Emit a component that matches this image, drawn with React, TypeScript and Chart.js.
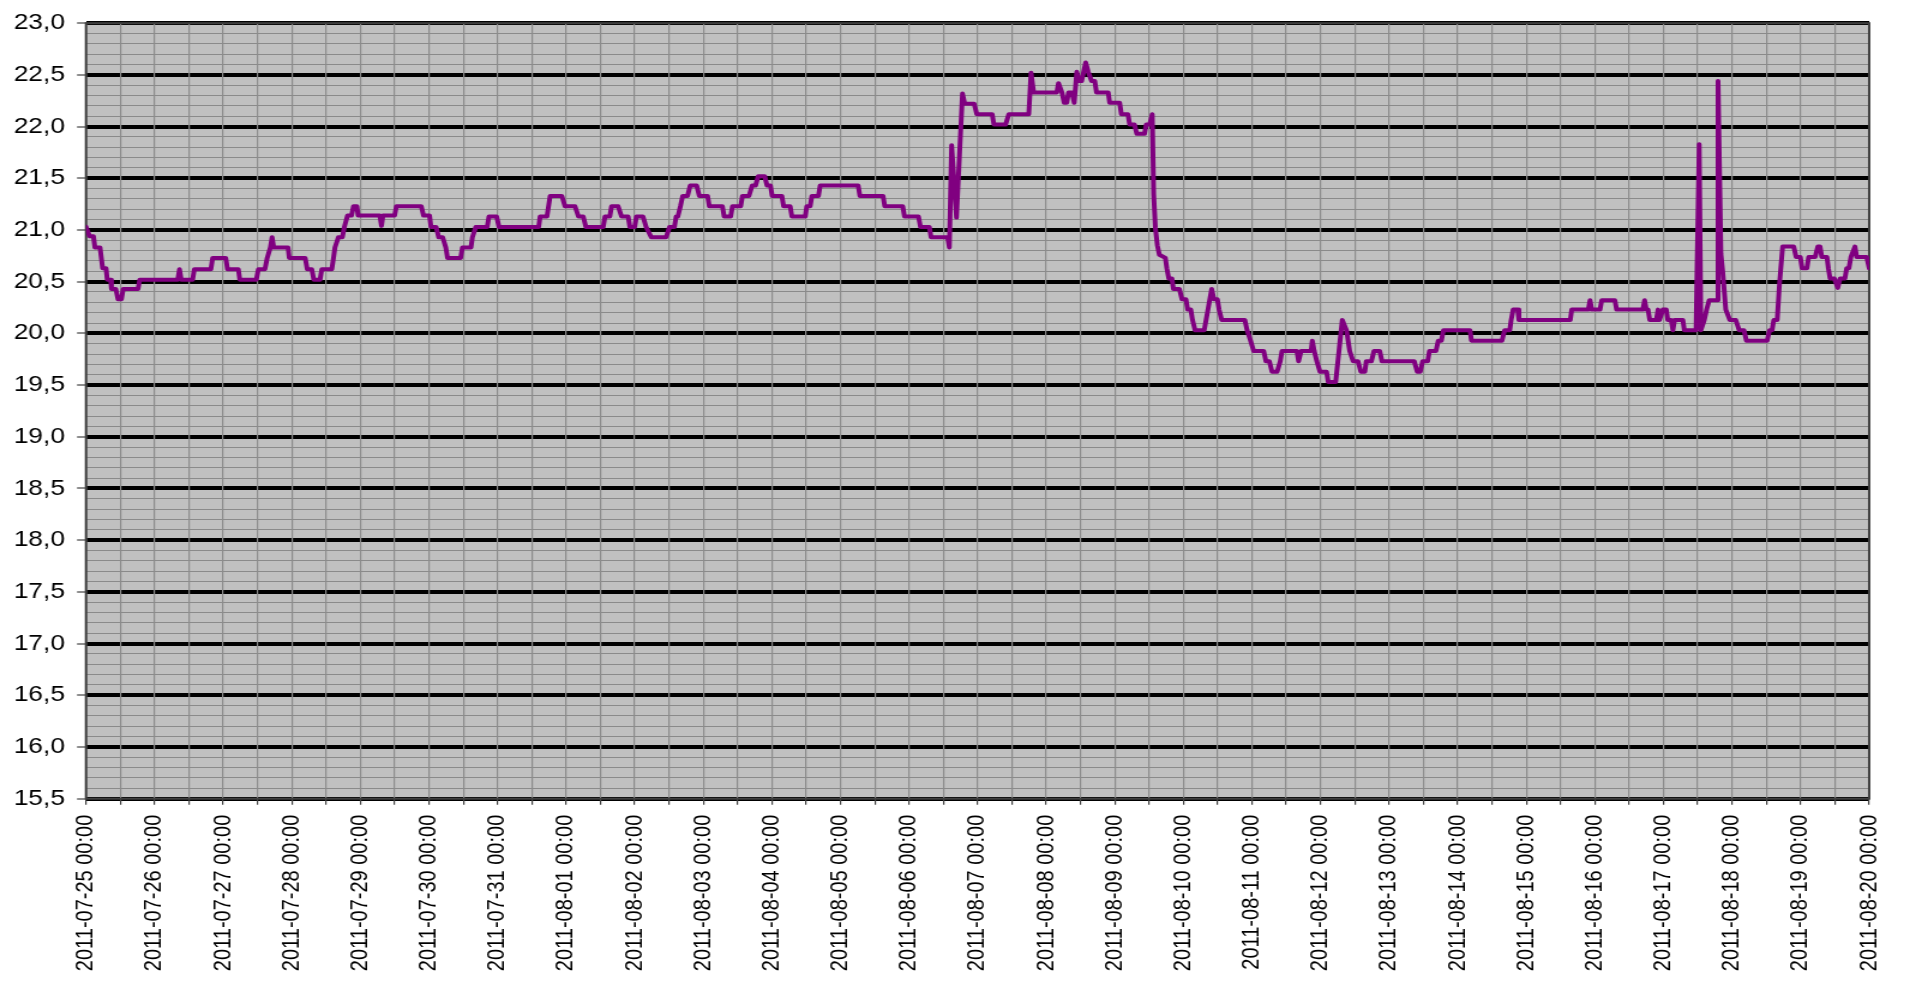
import { useEffect, useRef } from 'react';
import { Chart, registerables } from 'chart.js';

Chart.register(...registerables);

// Category tick labels (one per day, at 00:00)
const dateLabels = [
  '2011-07-25 00:00', '2011-07-26 00:00', '2011-07-27 00:00', '2011-07-28 00:00',
  '2011-07-29 00:00', '2011-07-30 00:00', '2011-07-31 00:00', '2011-08-01 00:00',
  '2011-08-02 00:00', '2011-08-03 00:00', '2011-08-04 00:00', '2011-08-05 00:00',
  '2011-08-06 00:00', '2011-08-07 00:00', '2011-08-08 00:00', '2011-08-09 00:00',
  '2011-08-10 00:00', '2011-08-11 00:00', '2011-08-12 00:00', '2011-08-13 00:00',
  '2011-08-14 00:00', '2011-08-15 00:00', '2011-08-16 00:00', '2011-08-17 00:00',
  '2011-08-18 00:00', '2011-08-19 00:00', '2011-08-20 00:00',
];

// Readings: hours since 2011-07-25 00:00
const readingHours = [
  0, 1.2, 2.6, 3.1, 4.9, 5.8, 7.0, 7.4, 8.6, 8.9, 10.4, 11.2, 12.4, 13.0, 18.2, 18.8,
  32.1, 32.7, 33.3, 37.3, 37.9, 43.7, 44.3, 48.9, 49.5, 53.3, 53.8, 59.6, 60.3, 62.6,
  63.4, 64.5, 65.1, 65.7, 70.7, 71.1, 76.7, 77.4, 79.0, 79.7, 81.9, 82.5, 86.0, 86.6,
  87.1, 88.3, 89.7, 90.4, 91.5, 92.9, 93.6, 94.8, 95.2, 102.8, 103.4, 103.9, 108.0,
  108.6, 117.3, 118.1, 120.2, 120.7, 122.5, 123.4, 124.8,
  125.9, 126.5, 131.1, 131.7, 134.7, 135.2, 136.4, 140.4, 141.0, 143.7, 144.5, 158.4,
  158.9, 161.3, 162.4, 166.5, 167.6, 171.1, 172.3, 174.0, 174.9, 181.0, 181.6, 183.3,
  183.9, 186.2, 187.4, 189.7, 190.3, 192.0, 192.6, 194.9, 196.0, 197.8, 203.0, 204.2,
  205.9, 206.5, 207.1, 208.0, 208.8, 210.5, 211.4, 213.7, 214.6, 217.5, 218.1, 222.7,
  223.3, 225.6, 226.2, 229.1, 229.7, 232.0, 233.1, 234.3, 235.2, 237.5, 238.3, 239.5,
  240.1, 243.5, 244.1, 246.4, 247.0,
  251.7, 252.2, 253.4, 254.0, 256.3, 256.9, 270.2, 270.8, 278.9, 279.5, 285.8, 286.4,
  291.3, 292.0, 295.1, 295.7, 301.5, 302.1, 302.9, 304.6, 306.7, 307.5, 310.8, 311.7,
  317.1, 317.7, 321.8, 322.9, 329.9, 330.7, 331.6, 339.7, 340.3, 341.5, 342.3, 343.2,
  343.8, 345.0, 345.8, 346.7, 347.5, 348.4, 349.8, 350.7, 351.9, 353.0, 353.6, 357.7,
  358.2, 361.7, 362.3, 364.6, 365.2, 366.9, 367.7, 370.4, 371.0, 372.2, 373.1,
  373.6, 374.2, 374.9, 375.6, 377.7, 378.2, 378.9, 380.0, 380.5, 382.6, 383.5, 384.9,
  385.5, 386.6, 387.2, 388.1, 391.3, 393.9, 394.7, 395.9, 396.5, 397.4, 405.5, 406.3,
  407.5, 408.6, 412.1, 412.9, 414.1, 415.0, 416.8, 417.9, 418.5, 423.7, 424.3, 425.2,
  428.7, 429.1, 429.8, 430.7, 431.8, 434.1, 434.7, 437.3, 439.6, 441.1, 442.2, 443.4,
  445.1, 446.1, 447.5, 448.0, 449.8, 450.7, 452.7, 453.5, 464.8, 465.8, 466.9, 467.7,
  469.5, 470.1, 472.4, 473.2, 474.3, 475.0, 484.3, 484.8, 495.5, 496.4, 498.2, 498.7,
  499.4,
  501.0, 501.4, 519.4, 519.9, 525.7, 526.3, 526.9, 529.8, 530.4, 535.0, 535.6, 544.8,
  545.4, 546.0, 546.6, 547.2, 549.5, 550.1, 550.6, 551.8, 553.0, 553.5, 554.7, 555.3,
  555.9, 558.8, 559.3, 563.4, 564.5, 565.1, 566.3, 567.1, 568.0, 570.9, 571.1, 572.1,
  572.7, 573.8, 575.2, 577.3, 578.5, 580.2, 581.0, 588.3, 589.1, 590.0, 590.6, 591.8,
  592.6, 593.7, 597.6, 598.4, 599.9, 600.5, 602.2, 602.8, 605.1, 606.0, 606.8, 607.4,
  609.2, 609.7, 610.3, 611.8, 613.0, 613.8, 615.5, 616.1, 616.9, 617.6, 619.0, 619.6,
  623.1, 624.0,
];

const readingTemps = [
  21.03, 20.94, 20.94, 20.83, 20.83, 20.63, 20.63, 20.52, 20.52, 20.43, 20.43, 20.33, 20.33, 20.43, 20.43, 20.52,
  20.52, 20.62, 20.52, 20.52, 20.62, 20.62, 20.73, 20.73, 20.62, 20.62, 20.52, 20.52, 20.62, 20.62,
  20.73, 20.83, 20.93, 20.83, 20.83, 20.73, 20.73, 20.62, 20.62, 20.52, 20.52, 20.62, 20.62, 20.73,
  20.83, 20.93, 20.93, 21.03, 21.14, 21.14, 21.23, 21.23, 21.14, 21.14, 21.04, 21.14, 21.14,
  21.23, 21.23, 21.14, 21.14, 21.03, 21.03, 20.93, 20.93,
  20.83, 20.73, 20.73, 20.83, 20.83, 20.93, 21.03, 21.03, 21.13, 21.13, 21.03, 21.03,
  21.13, 21.13, 21.33, 21.33, 21.23, 21.23, 21.13, 21.13, 21.03, 21.03, 21.13, 21.13,
  21.23, 21.23, 21.13, 21.13, 21.03, 21.03, 21.13, 21.13, 21.03, 20.93, 20.93, 21.03,
  21.03, 21.13, 21.13, 21.23, 21.33, 21.33, 21.43, 21.43, 21.33, 21.33, 21.23, 21.23,
  21.13, 21.13, 21.23, 21.23, 21.33, 21.33, 21.43, 21.43, 21.52, 21.52, 21.43, 21.43,
  21.33, 21.33, 21.23, 21.23, 21.13,
  21.13, 21.23, 21.23, 21.33, 21.33, 21.43, 21.43, 21.33, 21.33, 21.23, 21.23, 21.13,
  21.13, 21.03, 21.03, 20.93, 20.93, 20.83, 21.82, 21.12, 22.32, 22.22, 22.22, 22.12,
  22.12, 22.02, 22.02, 22.12, 22.12, 22.52, 22.33, 22.33, 22.42, 22.33, 22.23, 22.23,
  22.33, 22.33, 22.23, 22.53, 22.44, 22.44, 22.62, 22.53, 22.44, 22.44, 22.33, 22.33,
  22.23, 22.23, 22.12, 22.12, 22.02, 22.02, 21.93, 21.93, 22.02, 22.02, 22.12,
  21.35, 21.02, 20.85, 20.76, 20.73, 20.63, 20.53, 20.53, 20.43, 20.43, 20.33, 20.33,
  20.23, 20.23, 20.13, 20.03, 20.03, 20.43, 20.33, 20.33, 20.23, 20.13, 20.13, 20.03,
  19.93, 19.83, 19.83, 19.73, 19.73, 19.63, 19.63, 19.73, 19.83, 19.83, 19.73, 19.83,
  19.83, 19.93, 19.83, 19.73, 19.63, 19.63, 19.53, 19.53, 20.13, 20.03, 19.83, 19.73,
  19.73, 19.63, 19.63, 19.73, 19.73, 19.83, 19.83, 19.73, 19.73, 19.63, 19.63, 19.73,
  19.73, 19.83, 19.83, 19.93, 19.93, 20.03, 20.03, 19.93, 19.93, 20.03, 20.03, 20.13,
  20.23,
  20.23, 20.13, 20.13, 20.23, 20.23, 20.32, 20.23, 20.23, 20.32, 20.32, 20.23, 20.23,
  20.32, 20.23, 20.23, 20.13, 20.13, 20.23, 20.13, 20.23, 20.23, 20.13, 20.13, 20.03,
  20.13, 20.13, 20.03, 20.03, 21.83, 20.03, 20.13, 20.23, 20.32, 20.32, 22.44, 20.77,
  20.61, 20.23, 20.13, 20.13, 20.03, 20.03, 19.93, 19.93, 20.03, 20.03, 20.13, 20.13,
  20.48, 20.84, 20.84, 20.74, 20.74, 20.63, 20.63, 20.74, 20.74, 20.84, 20.84, 20.74,
  20.74, 20.63, 20.53, 20.53, 20.44, 20.53, 20.53, 20.63, 20.63, 20.74, 20.84, 20.74,
  20.74, 20.63,
];

const Y_MIN = 15.5;
const Y_MAX = 23.0;
const X_MAX_HOURS = 624;

const PAGE_W = 1910;
const PAGE_H = 985;
const STRETCH = 1.2;
const CANVAS_W = Math.round(PAGE_W / STRETCH);

const FONT = "'Liberation Sans', Arial, sans-serif";

const isMajor = (v: number) => Math.abs(v * 2 - Math.round(v * 2)) < 1e-6;

export default function App() {
  const ref = useRef<HTMLCanvasElement | null>(null);

  useEffect(() => {
    document.body.style.margin = '0';
    const canvas = ref.current;
    if (!canvas) return;

    const plotPlugin = {
      id: 'plotBackground',
      beforeDraw(chart: any) {
        const { ctx, chartArea: a } = chart;
        ctx.save();
        ctx.fillStyle = '#C0C0C0';
        ctx.fillRect(a.left, a.top, a.right - a.left, a.bottom - a.top);
        ctx.restore();
      },
      beforeDatasetsDraw(chart: any) {
        const { ctx, chartArea: a } = chart;
        ctx.save();
        ctx.strokeStyle = '#404040';
        ctx.lineWidth = 2;
        ctx.strokeRect(a.left, a.top, a.right - a.left, a.bottom - a.top);
        ctx.restore();
      },
    };

    const chart = new Chart(canvas, {
      type: 'line',
      data: {
        datasets: [
          {
            label: 'Temperatur',
            data: readingHours.map((h, i) => ({ x: h, y: readingTemps[i] })),
            borderColor: '#800080',
            borderWidth: 4,
            pointRadius: 0,
            pointHoverRadius: 0,
            tension: 0,
            fill: false,
            borderJoinStyle: 'round',
            borderCapStyle: 'round',
          },
        ],
      },
      options: {
        animation: false,
        responsive: false,
        devicePixelRatio: 1,
        events: [],
        layout: { padding: { top: 18.5, right: CANVAS_W - 1567.5, left: 0, bottom: 0 } },
        plugins: {
          legend: { display: false },
          tooltip: { enabled: false },
          title: { display: false },
        },
        scales: {
          x: {
            type: 'linear',
            min: 0,
            max: X_MAX_HOURS,
            afterFit: (s: any) => {
              s.height = PAGE_H - 798.7;
            },
            ticks: {
              stepSize: 12,
              autoSkip: false,
              maxTicksLimit: 1000,
              minRotation: 90,
              maxRotation: 90,
              padding: 10,
              color: '#000',
              font: { family: FONT, size: 20 },
              callback: (v: any) => {
                const n = Number(v);
                return n % 24 === 0 ? dateLabels[n / 24] : '';
              },
            },
            grid: {
              color: '#8c8c8c',
              lineWidth: 1.2,
              drawTicks: true,
              tickLength: 6,
              tickColor: '#404040',
              tickWidth: 1.2,
              z: -1,
            },
            border: { display: false },
          },
          y: {
            type: 'linear',
            min: Y_MIN,
            max: Y_MAX,
            afterFit: (s: any) => {
              s.width = 71.7;
            },
            ticks: {
              stepSize: 0.1,
              autoSkip: false,
              maxTicksLimit: 1000,
              padding: 10,
              color: '#000',
              font: { family: FONT, size: 22 },
              callback: (v: any) => {
                const n = Number(v);
                return isMajor(n) ? n.toFixed(1).replace('.', ',') : '';
              },
            },
            grid: {
              color: (c: any) => (c.tick && isMajor(c.tick.value) ? '#000000' : '#8a8a8a'),
              lineWidth: (c: any) => (c.tick && isMajor(c.tick.value) ? 4 : 1.1),
              drawTicks: true,
              tickLength: 7.5,
              tickColor: (c: any) => (c.tick && isMajor(c.tick.value) ? '#404040' : 'rgba(0,0,0,0)'),
              tickWidth: 1.2,
              z: -2,
            },
            border: { display: false },
          },
        },
      },
      plugins: [plotPlugin],
    } as any);

    return () => {
      chart.destroy();
    };
  }, []);

  return (
    <div style={{ width: PAGE_W, height: PAGE_H, overflow: 'hidden', background: '#fff' }}>
      <canvas
        ref={ref}
        width={CANVAS_W}
        height={PAGE_H}
        style={{
          display: 'block',
          width: CANVAS_W,
          height: PAGE_H,
          transform: `scaleX(${PAGE_W / CANVAS_W})`,
          transformOrigin: '0 0',
        }}
      />
    </div>
  );
}
